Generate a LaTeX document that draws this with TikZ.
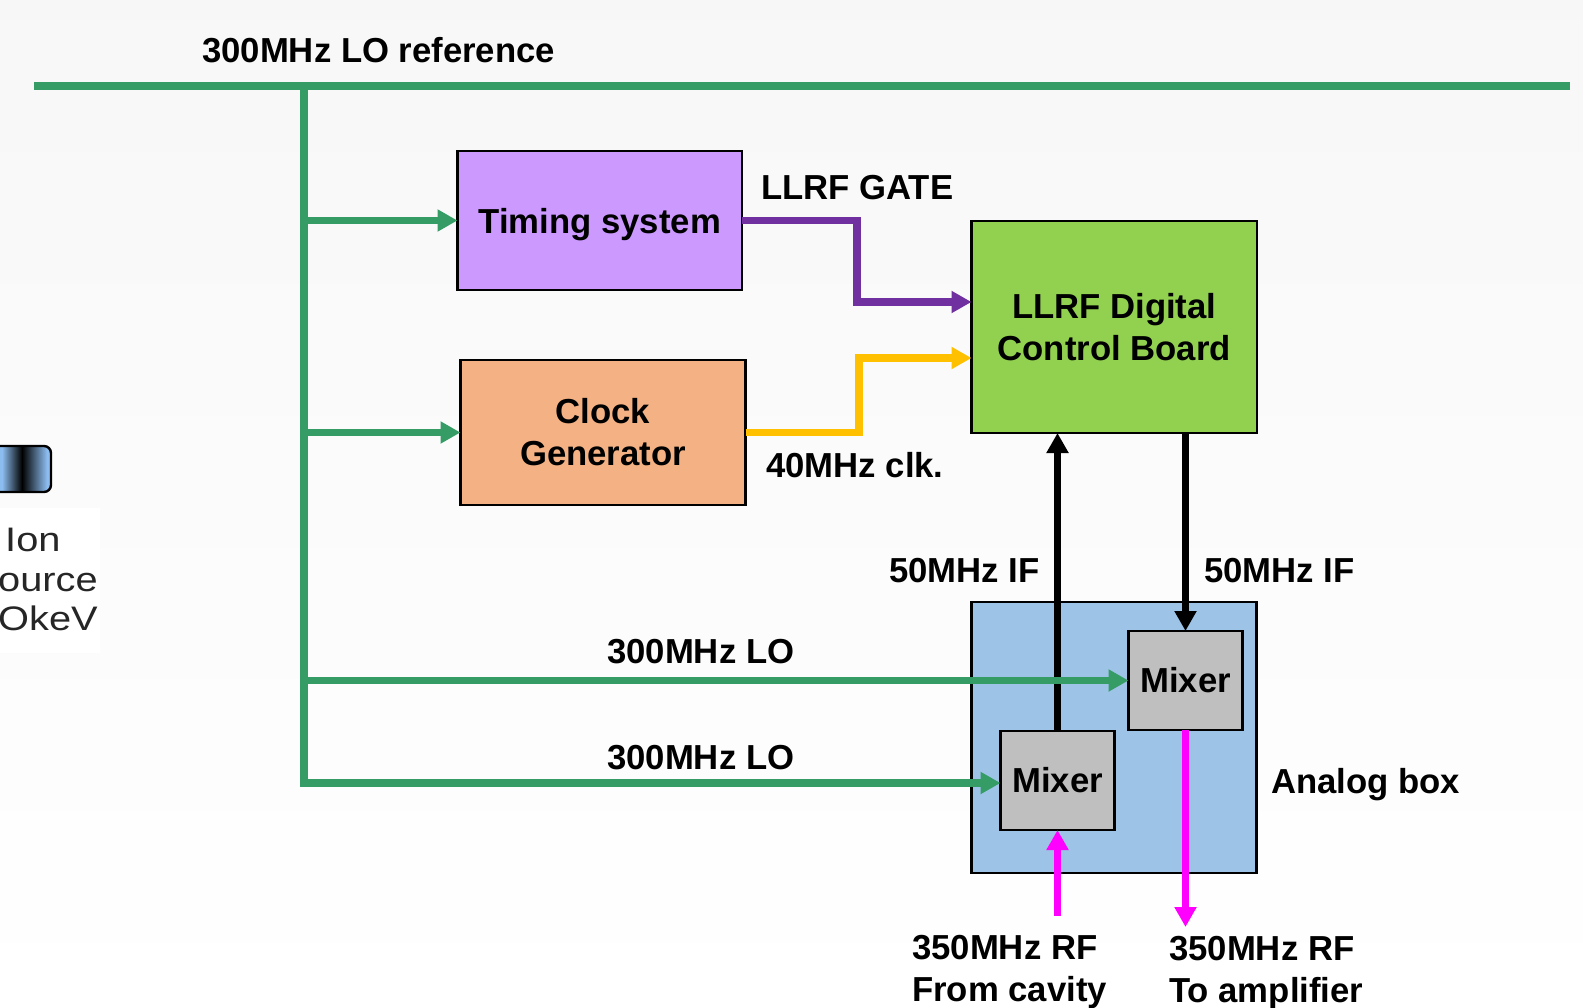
\documentclass[tikz,border=0pt]{standalone}
\usepackage{fontspec}
\setmainfont{Liberation Sans}
\usepackage{xcolor}
\definecolor{grn00}{HTML}{359C66}
\definecolor{pur00}{HTML}{7030A0}
\definecolor{ora00}{HTML}{FFC000}
\definecolor{mag00}{HTML}{FF00FF}
\definecolor{tim00}{HTML}{CC99FF}
\definecolor{clk00}{HTML}{F4B183}
\definecolor{dig00}{HTML}{92D050}
\definecolor{ana00}{HTML}{9DC3E6}
\definecolor{mix00}{HTML}{BFBFBF}
\definecolor{ibl00}{HTML}{8CBDF0}
\usetikzlibrary{positioning}
\usetikzlibrary{arrows.meta}
\tikzstyle{block} = [rectangle, draw=black, line width=2.4pt, outer sep=0pt, inner sep=0pt, text centered, align=center, font=\bfseries\fontsize{34.7}{42}\selectfont]
\tikzstyle{tim_block} = [block, minimum width=284.5pt, minimum height=139pt, fill=tim00]
\tikzstyle{clk_block} = [block, minimum width=285pt, minimum height=145pt, fill=clk00]
\tikzstyle{dig_block} = [block, minimum width=285.5pt, minimum height=212pt, fill=dig00]
\tikzstyle{ana_block} = [block, minimum width=285pt, minimum height=271pt, fill=ana00]
\tikzstyle{mix_block} = [block, minimum width=114pt, minimum height=99pt, fill=mix00]
\tikzstyle{lab} = [inner sep=0pt, anchor=west, align=left, font=\bfseries\fontsize{34.7}{42}\selectfont]
\tikzstyle{ion_lab} = [inner sep=0pt, anchor=base west, font=\fontsize{34}{39.5}\selectfont, text=black!85, xscale=1.17, transform shape]
\tikzstyle{sig_arr} = [line width=7.4pt,-{Triangle[length=20pt,width=21pt]}]
\tikzstyle{lo_line} = [line width=7.4pt,grn00]
\begin{document}
\begin{tikzpicture}[x=1pt,y=1pt]
        \useasboundingbox (0,0) rectangle (1583,-1008);
        \shade[top color=black!3, bottom color=white] (0,0) rectangle (1583,-1008);
        \fill[white] (0,-508) rectangle (100,-653);
        \begin{scope}
            \clip[rounded corners=7pt] (-29,-446) rectangle (51,-492);
            \fill[ibl00] (-29,-446) rectangle (2,-492);
            \shade[left color=ibl00, right color=black] (2,-446) rectangle (22,-492);
            \shade[left color=black, right color=ibl00] (22,-446) rectangle (47,-492);
            \fill[ibl00] (47,-446) rectangle (51,-492);
        \end{scope}
        \node (ion)[draw=black, line width=2.4pt, rounded corners=7pt, outer sep=0pt, minimum width=80pt, minimum height=46pt, anchor=east] at (51,-469) {};
        \node (ion1)[ion_lab] at (5,-551) {Ion};
        \node (ion2)[ion_lab] at (-2,-591) {ource};
        \node (ion3)[ion_lab] at (-2,-630) {OkeV};
        \coordinate (busl) at (34,-86);
        \coordinate (busr) at (1570,-86);
        \coordinate (tap) at (304,-86);
        \coordinate (trunk) at (304,-783);
        \node (tim)[tim_block,anchor=north west] at (457.5,-151) {\raisebox{-4pt}[\height][\depth]{Timing system}};
        \node (clk)[clk_block,below=70pt of tim.south west,anchor=north west,xshift=3pt] {Clock\\Generator};
        \node (dig)[dig_block,anchor=north west] at (971.5,-221) {LLRF Digital\\Control Board};
        \node (ana)[ana_block,below=169pt of dig.south west,anchor=north west] {};
        \node (mixb)[mix_block,below=29pt of ana.north east,anchor=north east,xshift=-14pt] {Mixer};
        \node (mixa)[mix_block,anchor=north west] at (1000.5,-731) {Mixer};
        \coordinate (ra) at (1057,-916);
        \coordinate (rb) at (1186,-927);
        \coordinate (pur1) at (857,-302);
        \coordinate (ora1) at (859,-358);
        \draw [sig_arr,black] (mixa.north) -- (mixa.north |- dig.south);
        \draw [sig_arr,black] (dig.south -| mixb.north) -- (mixb.north);
        \draw [lo_line] (busl) -- (busr);
        \draw [sig_arr,grn00] (tim.west -| tap) -- (tim.west);
        \draw [sig_arr,grn00] (clk.west -| tap) -- (clk.west);
        \draw [sig_arr,grn00] (mixb.west -| tap) -- (mixb.west);
        \draw [sig_arr,grn00] (tap) |- (mixa.west |- trunk);
        \draw [sig_arr,pur00] (tim.east) -| (pur1) -- (dig.west |- pur1);
        \draw [sig_arr,ora00] (clk.east) -| (ora1) -- (dig.west |- ora1);
        \draw [sig_arr,mag00] (mixa.south |- ra) -- (mixa.south);
        \draw [sig_arr,mag00] (mixb.south) -- (mixb.south |- rb);
        \node (lref)[lab] at (202,-50) {300MHz LO reference};
        \node (lgate)[lab] at (761,-188) {LLRF GATE};
        \node (lclk)[lab] at (766,-465) {40MHz clk.};
        \node (lifa)[lab] at (889,-571) {50MHz IF};
        \node (lifb)[lab] at (1204,-571) {50MHz IF};
        \node (lloa)[lab] at (607,-652) {300MHz LO};
        \node (llob)[lab] at (607,-758) {300MHz LO};
        \node (lana)[lab] at (1271,-785) {Analog box};
        \node (lrfa)[lab] at (912,-972) {350MHz RF\\From cavity};
        \node (lrfb)[lab] at (1169,-973) {350MHz RF\\To amplifier};
    \end{tikzpicture}
\end{document}
